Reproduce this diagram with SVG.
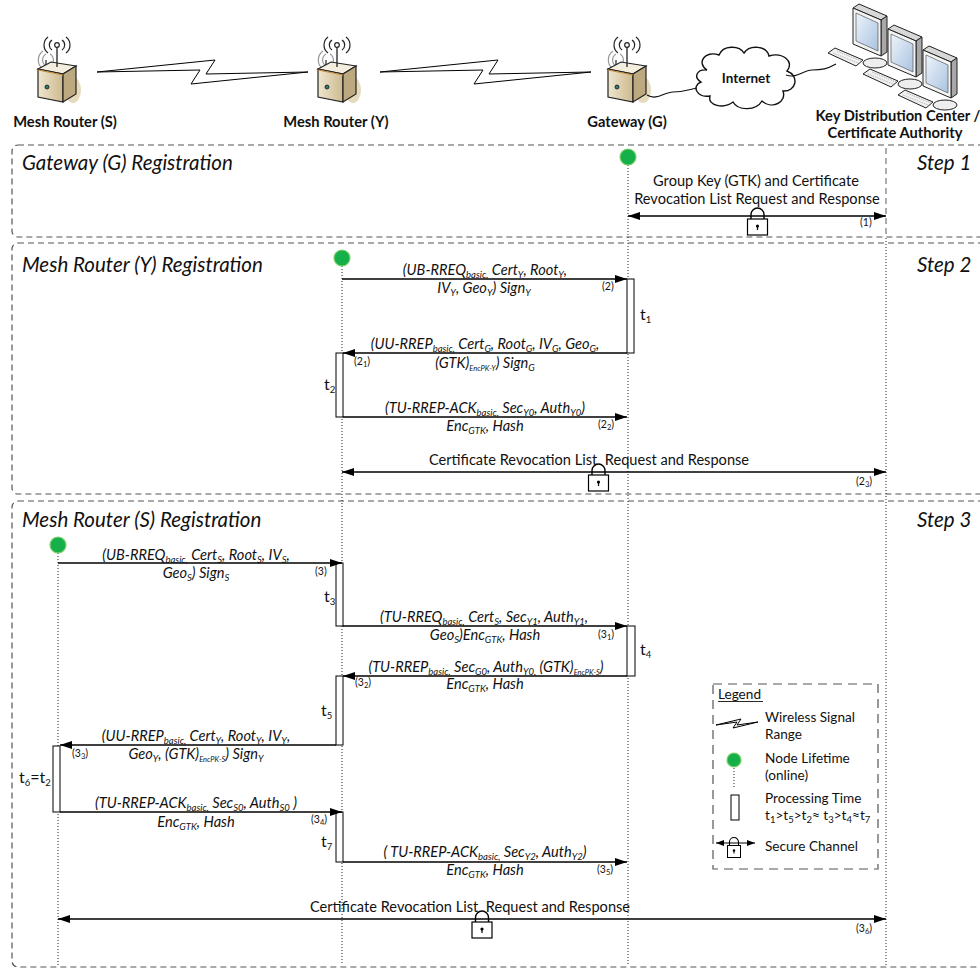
<svg xmlns="http://www.w3.org/2000/svg" width="980" height="972" viewBox="0 0 980 972">
<style>
  text { font-family: Lato, "Open Sans", "Liberation Sans", sans-serif; fill: #111; }
  .hdr { font-weight: bold; font-size: 14.7px; text-anchor: middle; }
  .ttl { font-style: italic; font-size: 20.5px; }
  .msg { font-style: italic; font-size: 14.6px; text-anchor: middle; }
  .plain { font-size: 14.6px; text-anchor: middle; }
  .s { font-size: 9.5px; }
  .xs { font-size: 7.5px; }
  .num { font-size: 10.5px; }
  .tl { font-size: 16px; }
  .leg { font-size: 13.6px; }
  .frame { fill: none; stroke: #555; stroke-width: 1.2; stroke-dasharray: 6 4; }
  .life { fill: none; stroke: #222; stroke-width: 1; stroke-dasharray: 1 2; }
  .msgline { fill: none; stroke: #000; stroke-width: 1.4; }
  .act { fill: #fff; stroke: #000; stroke-width: 1; }
  .dot { fill: #16b04a; stroke: #7fcf6a; stroke-width: 1.2; }
  .bolt { fill: #fff; stroke: #000; stroke-width: 1; stroke-linejoin: miter; }
</style>
<defs>
  <marker id="ah" viewBox="0 0 12 8" refX="12" refY="4" markerWidth="12" markerHeight="8" orient="auto-start-reverse" markerUnits="userSpaceOnUse">
    <path d="M0,0 L12,4 L0,8 Z" fill="#000"/>
  </marker>
  <marker id="ahs" viewBox="0 0 8 6" refX="8" refY="3" markerWidth="8" markerHeight="6" orient="auto-start-reverse" markerUnits="userSpaceOnUse">
    <path d="M0,0 L8,3 L0,6 Z" fill="#000"/>
  </marker>
  <linearGradient id="boxFront" x1="0" y1="0" x2="1" y2="0">
    <stop offset="0" stop-color="#efe6cf"/>
    <stop offset="1" stop-color="#cdb98e"/>
  </linearGradient>
  <linearGradient id="screen" x1="0" y1="0" x2="1" y2="1">
    <stop offset="0" stop-color="#eef4fb"/>
    <stop offset="1" stop-color="#a9c3e0"/>
  </linearGradient>
  <!-- wireless router, antenna at x=0 -->
  <g id="router">
    <ellipse cx="16" cy="90" rx="8" ry="13" fill="#dccba0" opacity="0.7"/>
    <path d="M-11,54 A7,7 0 0 0 -11,66 M-14,51 A11,11 0 0 0 -14,69 M-7,54 A7,7 0 0 1 -7,66" fill="none" stroke="#999" stroke-width="1.2"/>
    <line x1="-11" y1="60" x2="-11" y2="72" stroke="#222" stroke-width="1.2"/>
    <path d="M-19,69 L-6,62 L19,66 L6,74 Z" fill="#f4eedf" stroke="#222" stroke-width="1.2"/>
    <path d="M-19,69 L6,74 L6,102 L-19,97 Z" fill="url(#boxFront)" stroke="#222" stroke-width="1.2"/>
    <path d="M6,74 L19,66 L19,94 L6,102 Z" fill="#bda97f" stroke="#222" stroke-width="1.2"/>
    <line x1="-19" y1="70" x2="6" y2="75" stroke="#c98a3a" stroke-width="1"/>
    <circle cx="-10" cy="87" r="2" fill="#2e7d7a" stroke="#111" stroke-width="0.8"/>
    <line x1="0" y1="47" x2="0" y2="67" stroke="#222" stroke-width="1.3"/>
    <circle cx="0" cy="45" r="2.3" fill="#fff" stroke="#222" stroke-width="1.2"/>
    <path d="M-5,40 A6,6 0 0 0 -5,50 M-9,37 A10,10 0 0 0 -9,53 M5,40 A6,6 0 0 1 5,50 M9,37 A10,10 0 0 1 9,53" fill="none" stroke="#222" stroke-width="1.2"/>
  </g>
  <!-- desktop monitor with keyboard, origin at bezel top-left -->
  <g id="pc">
    <ellipse cx="22" cy="55" rx="12" ry="5" fill="#eee" stroke="#222" stroke-width="1"/>
    <path d="M0,0 L6,-4 L34,8 L28,12 Z" fill="#d8d8d8" stroke="#222" stroke-width="1"/>
    <path d="M28,12 L34,8 L34,44 L28,48 Z" fill="#a8a8a8" stroke="#222" stroke-width="1"/>
    <path d="M0,0 L28,12 L28,48 L0,36 Z" fill="#f4f4f4" stroke="#222" stroke-width="1"/>
    <path d="M3,5 L25,15 L25,43 L3,33 Z" fill="url(#screen)" stroke="#555" stroke-width="0.7"/>
    <path d="M-25,45 L-18,40 L10,52 L3,58 Z" fill="#f0f0f0" stroke="#222" stroke-width="1"/>
    <path d="M-20,45 L5,55 M-16,43 L8,53" stroke="#bbb" stroke-width="1" stroke-dasharray="1.5 1"/>
  </g>
  <!-- padlock, shackle top at y=-8 relative to the channel line -->
  <g id="lock">
    <path d="M-6.5,4 L-6.5,-1.5 A6.5,6.5 0 0 1 6.5,-1.5 L6.5,4" fill="none" stroke="#000" stroke-width="1.4"/>
    <rect x="-10" y="3" width="20" height="16" fill="#fff" stroke="#000" stroke-width="1.2"/>
    <circle cx="0" cy="10" r="1.6" fill="#000"/>
    <line x1="0" y1="10" x2="0" y2="14" stroke="#000" stroke-width="1.2"/>
  </g>
  <g id="lockSmall">
    <path d="M-4.5,3 L-4.5,-1 A4.5,4.5 0 0 1 4.5,-1 L4.5,3" fill="none" stroke="#000" stroke-width="1.1"/>
    <rect x="-6.5" y="2.5" width="13" height="12" fill="#fff" stroke="#000" stroke-width="1"/>
    <circle cx="0" cy="7.5" r="1.2" fill="#000"/>
    <line x1="0" y1="7.5" x2="0" y2="10.5" stroke="#000" stroke-width="1"/>
  </g>
</defs>

<rect width="980" height="972" fill="#fff"/>

<!-- header: devices -->
<g id="node-router-s">
  <use href="#router" x="57"/>
  <text class="hdr" x="65" y="127">Mesh Router (S)</text>
</g>
<g id="node-router-y">
  <use href="#router" x="337"/>
  <text class="hdr" x="336" y="127">Mesh Router (Y)</text>
</g>
<g id="node-gateway">
  <use href="#router" x="627"/>
  <text class="hdr" x="627" y="127">Gateway (G)</text>
</g>
<g id="node-internet">
  <path d="M707,70 C696,63 705,50 719,55 C723,45 739,45 744,53 C750,44 767,46 769,56 C782,52 795,61 787,71 C800,76 796,92 783,91 C787,102 772,110 762,101 C756,111 738,111 733,102 C724,109 707,106 710,96 C697,98 691,86 701,82 C693,77 697,69 707,70 Z" fill="#fff" stroke="#111" stroke-width="1.4"/>
  <text x="746" y="83" font-weight="bold" font-size="13.5" text-anchor="middle">Internet</text>
</g>
<g id="node-kdc">
  <use href="#pc" x="853" y="8"/>
  <use href="#pc" x="888" y="29"/>
  <use href="#pc" x="923" y="50"/>
  <text class="hdr" x="898" y="121">Key Distribution Center /</text>
  <text class="hdr" x="895" y="138">Certificate Authority</text>
</g>
<g id="links">
  <polygon class="bolt" points="97,72 215,60 206,74 308,72 191,84 200,70"/>
  <polygon class="bolt" points="380,72 498,60 489,74 591,72 474,84 483,70"/>
  <path d="M647,95 C657,101 664,92 673,92 C683,92 687,90 697,88" fill="none" stroke="#111" stroke-width="1.2"/>
  <path d="M786,75 C797,79 803,70 812,70 C822,70 827,69 836,64" fill="none" stroke="#111" stroke-width="1.2"/>
</g>

<!-- step frames -->
<g id="frames">
  <rect class="frame" x="12" y="145" width="990" height="92" rx="6"/>
  <rect class="frame" x="12" y="243" width="990" height="251" rx="6"/>
  <rect class="frame" x="12" y="501" width="990" height="466" rx="6"/>
</g>
<g id="titles">
  <text class="ttl" x="22" y="170">Gateway (G) Registration</text>
  <text class="ttl" x="917" y="170">Step 1</text>
  <text class="ttl" x="22" y="272">Mesh Router (Y) Registration</text>
  <text class="ttl" x="917" y="272">Step 2</text>
  <text class="ttl" x="22" y="527">Mesh Router (S) Registration</text>
  <text class="ttl" x="917" y="527">Step 3</text>
</g>

<!-- lifelines -->
<g id="lifelines">
  <line class="life" x1="58" y1="553" x2="58" y2="965"/>
  <line class="life" x1="342" y1="266" x2="342" y2="965"/>
  <line class="life" x1="628" y1="165" x2="628" y2="965"/>
  <line x1="886" y1="148" x2="886" y2="236" stroke="#777" stroke-width="1.2" stroke-dasharray="6 4"/>
  <line class="life" x1="886" y1="238" x2="886" y2="965"/>
  <circle class="dot" cx="628" cy="157" r="8"/>
  <circle class="dot" cx="342" cy="258" r="8"/>
  <circle class="dot" cx="58" cy="545" r="8"/>
</g>

<!-- processing (activation) bars -->
<g id="activations">
  <rect class="act" x="627" y="279" width="7" height="74"/>
  <rect class="act" x="336" y="353" width="7" height="64"/>
  <rect class="act" x="336" y="563" width="7" height="63"/>
  <rect class="act" x="627" y="626" width="8" height="50"/>
  <rect class="act" x="336" y="676" width="7" height="69"/>
  <rect class="act" x="53" y="746" width="7" height="66"/>
  <rect class="act" x="336" y="812" width="7" height="50"/>
</g>

<!-- messages -->
<g id="connectors">
  <line class="msgline" x1="628" y1="216" x2="886" y2="216" marker-start="url(#ah)" marker-end="url(#ah)"/>
  <line class="msgline" x1="342" y1="279" x2="627" y2="279" marker-end="url(#ah)"/>
  <line class="msgline" x1="627" y1="353" x2="343" y2="353" marker-end="url(#ah)"/>
  <line class="msgline" x1="343" y1="417" x2="627" y2="417" marker-end="url(#ah)"/>
  <line class="msgline" x1="342" y1="472" x2="886" y2="472" marker-start="url(#ah)" marker-end="url(#ah)"/>
  <line class="msgline" x1="58" y1="563" x2="342" y2="563" marker-end="url(#ah)"/>
  <line class="msgline" x1="343" y1="626" x2="627" y2="626" marker-end="url(#ah)"/>
  <line class="msgline" x1="627" y1="676" x2="343" y2="676" marker-end="url(#ah)"/>
  <line class="msgline" x1="336" y1="745" x2="60" y2="745" marker-end="url(#ah)"/>
  <line class="msgline" x1="60" y1="812" x2="342" y2="812" marker-end="url(#ah)"/>
  <line class="msgline" x1="343" y1="862" x2="627" y2="862" marker-end="url(#ah)"/>
  <line class="msgline" x1="58" y1="919" x2="886" y2="919" marker-start="url(#ah)" marker-end="url(#ah)"/>
  <use href="#lock" x="757.5" y="216"/>
  <use href="#lock" x="598.5" y="472"/>
  <use href="#lock" x="482" y="919"/>
</g>

<!-- message labels -->
<g id="labels">
  <text class="plain" x="756" y="186">Group Key (GTK) and Certificate</text>
  <text class="plain" x="757" y="204">Revocation List Request and Response</text>
  <text class="num" x="860" y="226">(1)</text>

  <text class="msg" x="485" y="275">(UB-RREQ<tspan class="s" dy="3">basic,</tspan><tspan dy="-3"> Cert</tspan><tspan class="s" dy="3">Y</tspan><tspan dy="-3">, Root</tspan><tspan class="s" dy="3">Y</tspan><tspan dy="-3">,</tspan></text>
  <text class="msg" x="484" y="293">IV<tspan class="s" dy="3">Y</tspan><tspan dy="-3">, Geo</tspan><tspan class="s" dy="3">Y</tspan><tspan dy="-3">) Sign</tspan><tspan class="s" dy="3">Y</tspan></text>
  <text class="num" x="602" y="290">(2)</text>
  <text class="tl" x="640" y="320">t<tspan class="s" dy="3">1</tspan></text>

  <text class="msg" x="485" y="349">(UU-RREP<tspan class="s" dy="3">basic,</tspan><tspan dy="-3"> Cert</tspan><tspan class="s" dy="3">G</tspan><tspan dy="-3">, Root</tspan><tspan class="s" dy="3">G</tspan><tspan dy="-3">, IV</tspan><tspan class="s" dy="3">G</tspan><tspan dy="-3">, Geo</tspan><tspan class="s" dy="3">G</tspan><tspan dy="-3">,</tspan></text>
  <text class="msg" x="485" y="368">(GTK)<tspan class="xs" dy="3">EncPK-Y</tspan><tspan dy="-3">) Sign</tspan><tspan class="s" dy="3">G</tspan></text>
  <text class="num" x="354" y="365">(2<tspan class="xs" dy="2">1</tspan><tspan dy="-2">)</tspan></text>
  <text class="tl" x="324" y="390">t<tspan class="s" dy="3">2</tspan></text>

  <text class="msg" x="485" y="413">(TU-RREP-ACK<tspan class="s" dy="3">basic,</tspan><tspan dy="-3"> Sec</tspan><tspan class="s" dy="3">Y0</tspan><tspan dy="-3">, Auth</tspan><tspan class="s" dy="3">Y0</tspan><tspan dy="-3">)</tspan></text>
  <text class="msg" x="485" y="431">Enc<tspan class="s" dy="3">GTK</tspan><tspan dy="-3">, Hash</tspan></text>
  <text class="num" x="598" y="428">(2<tspan class="xs" dy="2">2</tspan><tspan dy="-2">)</tspan></text>

  <text class="plain" x="589" y="465">Certificate Revocation List&#160;&#160;Request and Response</text>
  <text class="num" x="856" y="485">(2<tspan class="xs" dy="2">3</tspan><tspan dy="-2">)</tspan></text>

  <text class="msg" x="196" y="560">(UB-RREQ<tspan class="s" dy="3">basic,</tspan><tspan dy="-3"> Cert</tspan><tspan class="s" dy="3">S</tspan><tspan dy="-3">, Root</tspan><tspan class="s" dy="3">S</tspan><tspan dy="-3">, IV</tspan><tspan class="s" dy="3">S</tspan><tspan dy="-3">,</tspan></text>
  <text class="msg" x="196" y="578">Geo<tspan class="s" dy="3">S</tspan><tspan dy="-3">) Sign</tspan><tspan class="s" dy="3">S</tspan></text>
  <text class="num" x="315" y="575">(3)</text>
  <text class="tl" x="324" y="602">t<tspan class="s" dy="3">3</tspan></text>

  <text class="msg" x="484" y="622">(TU-RREQ<tspan class="s" dy="3">basic,</tspan><tspan dy="-3"> Cert</tspan><tspan class="s" dy="3">S</tspan><tspan dy="-3">, Sec</tspan><tspan class="s" dy="3">Y1</tspan><tspan dy="-3">, Auth</tspan><tspan class="s" dy="3">Y1</tspan><tspan dy="-3">,</tspan></text>
  <text class="msg" x="485" y="640">Geo<tspan class="s" dy="3">S</tspan><tspan dy="-3">)Enc</tspan><tspan class="s" dy="3">GTK</tspan><tspan dy="-3">, Hash</tspan></text>
  <text class="num" x="598" y="638">(3<tspan class="xs" dy="2">1</tspan><tspan dy="-2">)</tspan></text>
  <text class="tl" x="640" y="655">t<tspan class="s" dy="3">4</tspan></text>

  <text class="msg" x="486" y="672">(TU-RREP<tspan class="s" dy="3">basic,</tspan><tspan dy="-3"> Sec</tspan><tspan class="s" dy="3">G0</tspan><tspan dy="-3">, Auth</tspan><tspan class="s" dy="3">Y0,</tspan><tspan dy="-3"> (GTK)</tspan><tspan class="xs" dy="3">EncPK-S</tspan><tspan dy="-3">)</tspan></text>
  <text class="msg" x="485" y="689">Enc<tspan class="s" dy="3">GTK</tspan><tspan dy="-3">, Hash</tspan></text>
  <text class="num" x="355" y="686">(3<tspan class="xs" dy="2">2</tspan><tspan dy="-2">)</tspan></text>
  <text class="tl" x="321" y="716">t<tspan class="s" dy="3">5</tspan></text>

  <text class="msg" x="196" y="741">(UU-RREP<tspan class="s" dy="3">basic,</tspan><tspan dy="-3"> Cert</tspan><tspan class="s" dy="3">Y</tspan><tspan dy="-3">, Root</tspan><tspan class="s" dy="3">Y</tspan><tspan dy="-3">, IV</tspan><tspan class="s" dy="3">Y</tspan><tspan dy="-3">,</tspan></text>
  <text class="msg" x="196" y="759">Geo<tspan class="s" dy="3">Y</tspan><tspan dy="-3">, (GTK)</tspan><tspan class="xs" dy="3">EncPK-S</tspan><tspan dy="-3">) Sign</tspan><tspan class="s" dy="3">Y</tspan></text>
  <text class="num" x="72" y="757">(3<tspan class="xs" dy="2">3</tspan><tspan dy="-2">)</tspan></text>
  <text class="tl" x="19" y="783">t<tspan class="s" dy="3">6</tspan><tspan dy="-3">=t</tspan><tspan class="s" dy="3">2</tspan></text>

  <text class="msg" x="196" y="808">(TU-RREP-ACK<tspan class="s" dy="3">basic,</tspan><tspan dy="-3"> Sec</tspan><tspan class="s" dy="3">S0</tspan><tspan dy="-3">, Auth</tspan><tspan class="s" dy="3">S0</tspan><tspan dy="-3"> )</tspan></text>
  <text class="msg" x="196" y="827">Enc<tspan class="s" dy="3">GTK</tspan><tspan dy="-3">, Hash</tspan></text>
  <text class="num" x="311" y="823">(3<tspan class="xs" dy="2">4</tspan><tspan dy="-2">)</tspan></text>
  <text class="tl" x="321" y="847">t<tspan class="s" dy="3">7</tspan></text>

  <text class="msg" x="485" y="857">( TU-RREP-ACK<tspan class="s" dy="3">basic,</tspan><tspan dy="-3"> Sec</tspan><tspan class="s" dy="3">Y2</tspan><tspan dy="-3">, Auth</tspan><tspan class="s" dy="3">Y2</tspan><tspan dy="-3">)</tspan></text>
  <text class="msg" x="485" y="875">Enc<tspan class="s" dy="3">GTK</tspan><tspan dy="-3">, Hash</tspan></text>
  <text class="num" x="597" y="873">(3<tspan class="xs" dy="2">5</tspan><tspan dy="-2">)</tspan></text>

  <text class="plain" x="470" y="912">Certificate Revocation List&#160;&#160;Request and Response</text>
  <text class="num" x="856" y="932">(3<tspan class="xs" dy="2">6</tspan><tspan dy="-2">)</tspan></text>
</g>

<!-- legend -->
<g id="legend">
  <rect x="713" y="684" width="165" height="185" fill="#fff" stroke="#555" stroke-width="1.2" stroke-dasharray="9 6"/>
  <text class="leg" x="718" y="699">Legend</text>
  <line x1="718" y1="701.5" x2="763" y2="701.5" stroke="#111" stroke-width="0.9"/>
  <polygon class="bolt" points="716,725 741,719 737,725 758,722 733,728 737,722"/>
  <text class="leg" x="765" y="722">Wireless Signal</text>
  <text class="leg" x="765" y="739">Range</text>
  <line class="life" x1="734" y1="765" x2="734" y2="787"/>
  <circle class="dot" cx="734" cy="760" r="7"/>
  <text class="leg" x="765" y="763">Node Lifetime</text>
  <text class="leg" x="765" y="780">(online)</text>
  <rect class="act" x="731" y="795" width="8" height="25"/>
  <text class="leg" x="765" y="803">Processing Time</text>
  <text class="leg" x="765" y="820">t<tspan class="s" dy="3">1</tspan><tspan dy="-3">&gt;t</tspan><tspan class="s" dy="3">5</tspan><tspan dy="-3">&gt;t</tspan><tspan class="s" dy="3">2</tspan><tspan dy="-3">≈ t</tspan><tspan class="s" dy="3">3</tspan><tspan dy="-3">&gt;t</tspan><tspan class="s" dy="3">4</tspan><tspan dy="-3">≈t</tspan><tspan class="s" dy="3">7</tspan></text>
  <line x1="716" y1="843" x2="755" y2="843" stroke="#000" stroke-width="1.2" marker-start="url(#ahs)" marker-end="url(#ahs)"/>
  <use href="#lockSmall" x="734" y="843"/>
  <text class="leg" x="765" y="851">Secure Channel</text>
</g>
</svg>
